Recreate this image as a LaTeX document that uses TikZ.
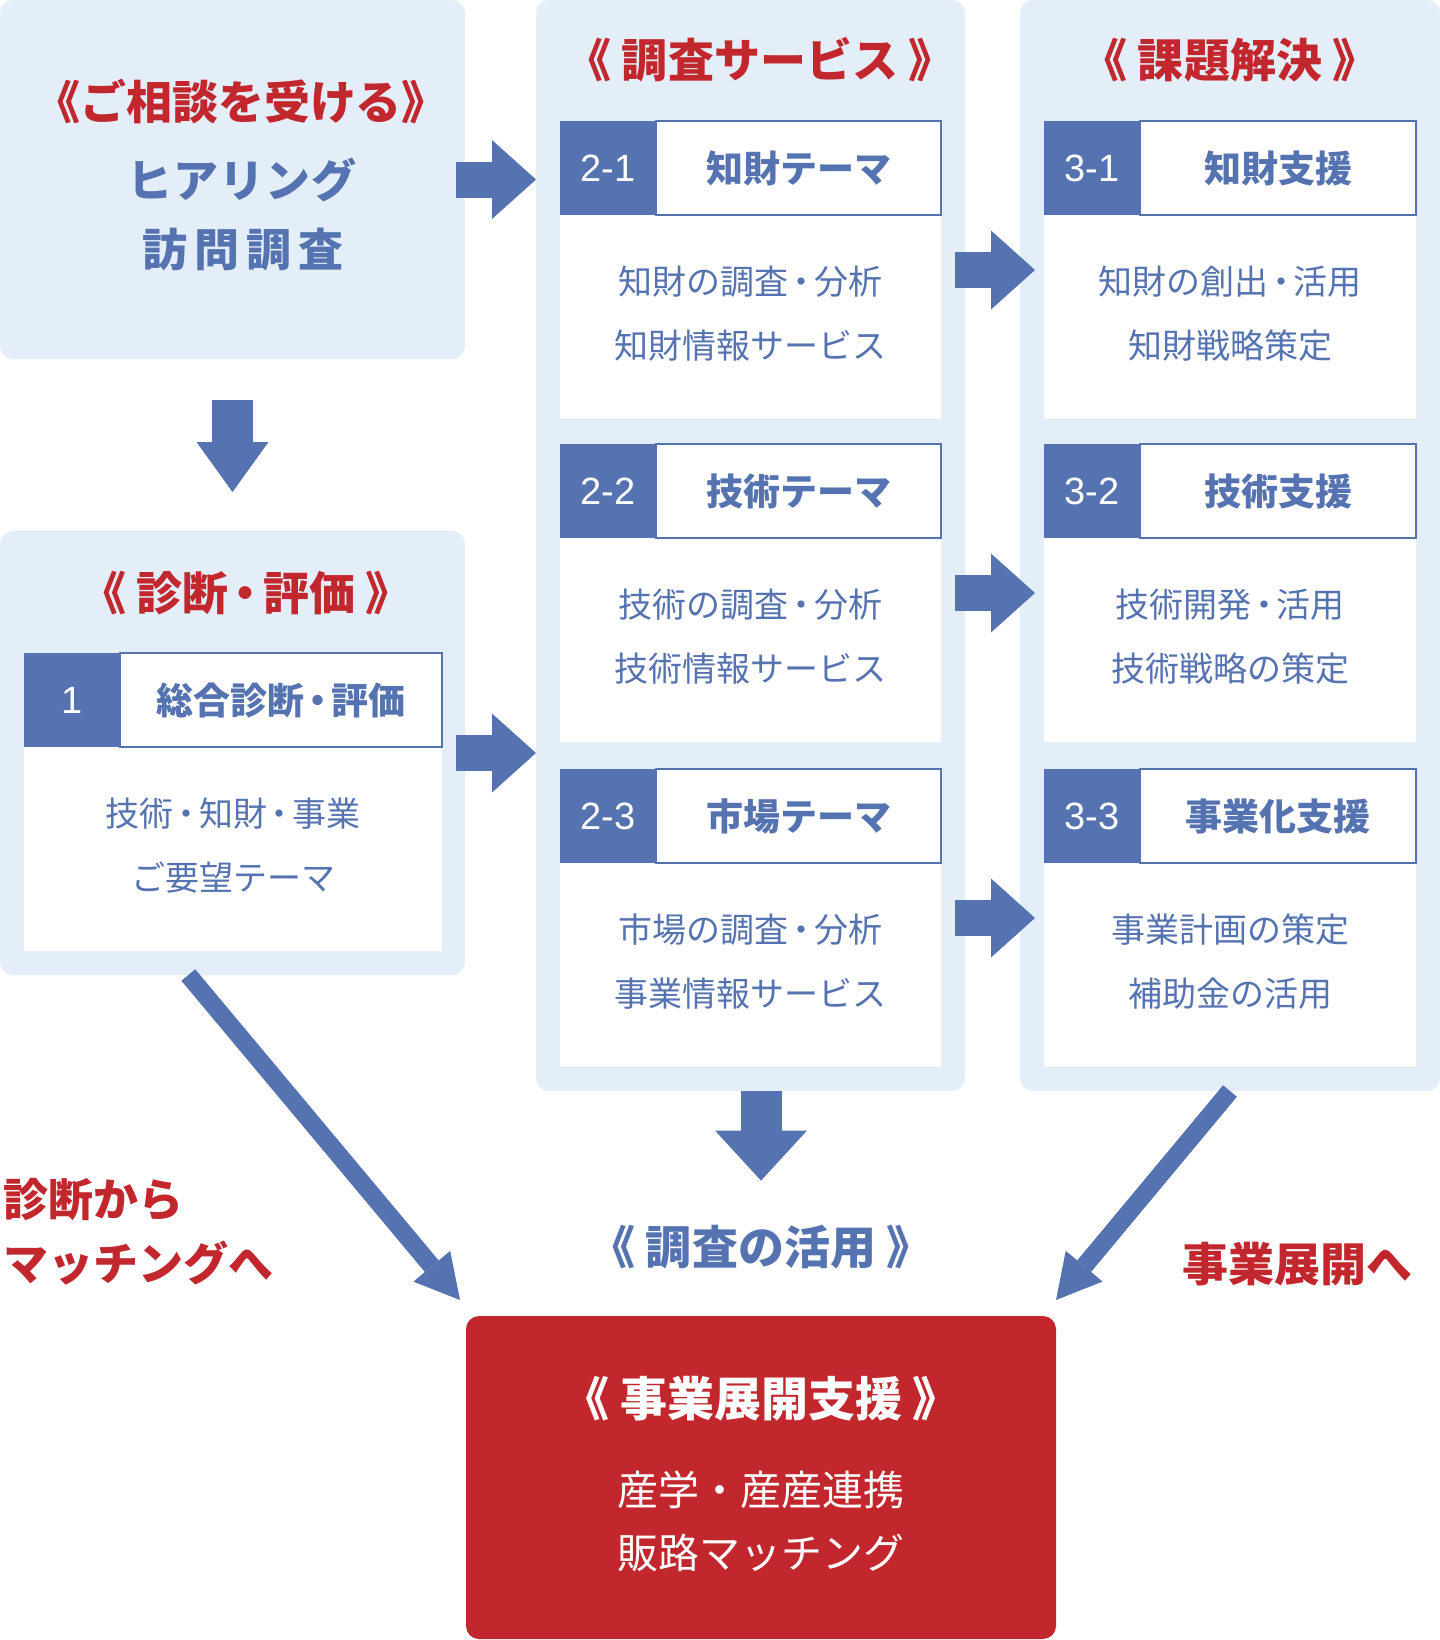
\documentclass[tikz,border=0pt]{standalone}
\usepackage{fontspec}
\setmainfont{Noto Sans CJK JP}
\newfontfamily\numfont{Liberation Sans}
\usepackage{tikz}
\usetikzlibrary{arrows.meta,positioning,calc}
\definecolor{cPale}{HTML}{E4EEF9}
\definecolor{cBlue}{HTML}{5573B0}
\definecolor{cRed}{HTML}{C1272D}
\newcommand\nakadot{\kern-0.13em・\kern-0.13em}
\tikzset{
  panel/.style={fill=#1,rounded corners=6.5pt,anchor=north west,inner sep=0pt,outer sep=0pt},
  panel/.default=cPale,
  cardbody/.style={fill=white,anchor=north west,inner sep=0pt,outer sep=0pt,minimum height=149pt},
  numcell/.style={fill=cBlue,anchor=north west,inner sep=0pt,outer sep=0pt,minimum width=48pt,minimum height=47pt,text=white,font=\numfont\fontsize{19}{19}\selectfont},
  headcell/.style={fill=white,draw=cBlue,line width=1pt,anchor=north west,inner sep=0pt,outer sep=0pt,minimum height=47pt,text=cBlue,font=\bfseries\fontsize{18.5}{18.5}\selectfont},
  bodytxt/.style={text=#1,align=center,inner sep=0pt,yshift=1.5pt,font=\fontsize{17}{32}\selectfont},
  bodytxt/.default=cBlue,
  ttl/.style={text=#1,inner sep=0pt,font=\bfseries\fontsize{23}{23}\selectfont},
  ttl/.default=cRed,
  barrow/.style={draw=cBlue,line width=18pt,-{Triangle[length=22pt,width=39.5pt,line width=0pt]}},
  darrow/.style={draw=cBlue,line width=9pt,-{Triangle[length=22pt,width=24pt,line width=0pt]}},
}

\begin{document}
\begin{tikzpicture}[x=0.5pt,y=-0.5pt]
  \useasboundingbox (0,0) rectangle (1440,1640);
  % light panels and the red target box
  \node[panel,minimum width=232.5pt,minimum height=179.5pt] (pConsult) at (0,0) {};
  \node[panel,minimum width=232.5pt,minimum height=222pt] (pDiag) at (0,531) {};
  \node[panel,minimum width=214.5pt,minimum height=545.5pt] (pSurvey) at (536,0) {};
  \node[panel,minimum width=210pt,minimum height=545.5pt] (pSolve) at (1020,0) {};
  \node[panel=cRed,minimum width=295pt,minimum height=161.5pt] (pSupport) at (466,1316) {};

  \node[ttl] (tConsult) at (241,102) {《ご相談を受ける》};
  \node[ttl=cBlue,font=\bfseries\fontsize{22.5}{22.5}\selectfont] (tHear) at (242,180) {ヒ\hspace{0.6pt}ア\hspace{0.6pt}リ\hspace{0.6pt}ン\hspace{0.6pt}グ};
  \node[ttl=cBlue,font=\bfseries\fontsize{22.5}{22.5}\selectfont] (tVisit) at (243,249) {訪\hspace{3.5pt}問\hspace{3.5pt}調\hspace{3.5pt}査};
  \node[ttl] (tDiag) at (246,593) {《 診断\nakadot 評価 》};
  \node[ttl] (tSurvey) at (760,60) {《 調査サービス 》};
  \node[ttl] (tSolve) at (1230,60) {《 課題解決 》};

  % card 1
  \node[cardbody,minimum width=209pt] (d1) at (24,653) {};
  \node[numcell] (dn1) at (d1.north west) {1};
  \node[headcell,minimum width=161pt] (dh1) at (dn1.north east) {総合診断\nakadot 評価};
  \node[bodytxt] at ($(dn1.south -| d1.center)!0.5!(d1.south)$) {技術\nakadot 知財\nakadot 事業\\ご要望テーマ};

  % cards 2-x and 3-x
  \foreach \k/\ty/\ha/\aa/\ab/\hb/\ba/\bb in {
    1/121/知財テーマ/知財の調査\nakadot 分析/知財情報サービス/知財支援/知財の創出\nakadot 活用/知財戦略策定,
    2/444/技術テーマ/技術の調査\nakadot 分析/技術情報サービス/技術支援/技術開発\nakadot 活用/技術戦略の策定,
    3/769/市場テーマ/市場の調査\nakadot 分析/事業情報サービス/事業化支援/事業計画の策定/補助金の活用}{
    \node[cardbody,minimum width=190.5pt] (s\k) at (560,\ty) {};
    \node[numcell] (sn\k) at (s\k.north west) {2-\k};
    \node[headcell,minimum width=142.5pt] (sh\k) at (sn\k.north east) {\ha};
    \node[bodytxt] at ($(sn\k.south -| s\k.center)!0.5!(s\k.south)$) {\aa\\\ab};
    \node[cardbody,minimum width=186pt] (v\k) at (1044,\ty) {};
    \node[numcell] (vn\k) at (v\k.north west) {3-\k};
    \node[headcell,minimum width=138pt] (vh\k) at (vn\k.north east) {\hb};
    \node[bodytxt] at ($(vn\k.south -| v\k.center)!0.5!(v\k.south)$) {\ba\\\bb};
    \draw[barrow,shorten <=7pt,shorten >=4.5pt] (s\k) -- (v\k);
  }

  % bottom labels
  \node[ttl=cBlue] (lUse) at (761,1247) {《 調査の活用 》};
  \node[ttl,align=left,anchor=west,font=\bfseries\fontsize{22.5}{32}\selectfont] (lMatch) at (3,1232) {診断から\\マッチングへ};
  \node[ttl] (lGrow) at (1297,1264) {事業展開へ};
  \node[ttl=white,font=\bfseries\fontsize{23.5}{23.5}\selectfont] (tSupport) at (761,1399) {《 事業展開支援 》};
  \node[bodytxt=white,font=\fontsize{20.5}{31.5}\selectfont] (bSupport) at (761,1524) {産学・産産連携\\販路マッチング};

  % block arrows
  \draw[barrow,shorten <=-4.5pt] (pConsult.east) -- (pConsult.east -| pSurvey.west);
  \draw[barrow,shorten <=-4.5pt] (pDiag.east) -- (pDiag.east -| pSurvey.west);
  \draw[barrow,line width=20.5pt,-{Triangle[length=25pt,width=36pt,line width=0pt]},shorten <=20.5pt,shorten >=19.5pt]
    (pConsult.south) -- (pDiag.north);
  \draw[barrow,line width=20.5pt,-{Triangle[length=25pt,width=46pt,line width=0pt]},shorten >=22pt]
    (pSurvey.south -| pSupport.north) -- (lUse);
  \draw[darrow] ($(pDiag.south west)!0.405!(pDiag.south east)$) -- ([shift={(-6,-16)}]pSupport.north west);
  \draw[darrow] (pSolve.south) -- ([shift={(0,-16)}]pSupport.north east);
\end{tikzpicture}
\end{document}
